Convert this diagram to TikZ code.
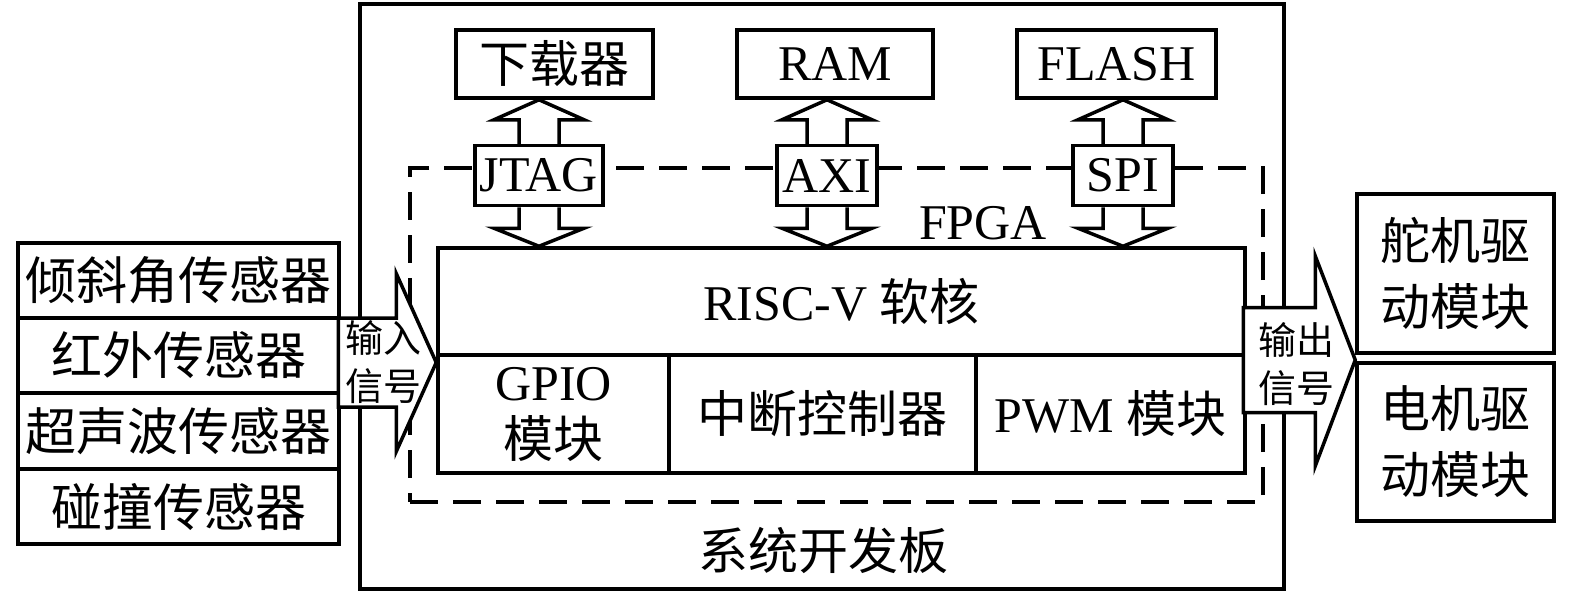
\documentclass[tikz,border=0pt]{standalone}
\usepackage{fontspec}
\setmainfont{Liberation Serif}
\newfontfamily\cjk{Noto Sans CJK SC}
\usetikzlibrary{calc}
\newcommand{\zh}[1]{{\cjk #1}}
\begin{document}
\begin{tikzpicture}[x=1pt,y=-1pt,
  lw/.style={line width=3.5pt},
  box/.style={draw,lw,inner sep=0pt,align=center,font=\fontsize{50}{60}\selectfont},
  dashbox/.style={draw,lw,dash pattern=on 28pt off 15pt},
  buslbl/.style={draw,lw,fill=white,inner sep=0pt,minimum height=60pt,font=\fontsize{50}{60}\selectfont},
  fat/.style={draw,lw,fill=white,line join=miter},
  busline/.style={draw,lw,line join=miter},
  small/.style={inner sep=0pt,align=left,font=\fontsize{38}{48}\selectfont\cjk},
  txt/.style={inner sep=0pt,align=center,font=\fontsize{50}{60}\selectfont}]
\useasboundingbox (0,0) rectangle (1575,594);

% system board and FPGA region
\node[draw,lw,minimum width=924pt,minimum height=585pt,inner sep=0pt] (board) at (822,296.5) {};
\node[dashbox,minimum width=853pt,minimum height=334pt,inner sep=0pt] (fpga) at (836.5,335) {};
\node[txt] (fpgatxt) at (983,223) {FPGA};
\node[txt] (boardtxt) at (823,550) {\zh{系统开发板}};

% top peripherals
\node[box,minimum width=197pt,minimum height=68pt] (dl) at (554.5,64) {\zh{下载器}};
\node[box,minimum width=196pt,minimum height=68pt] (ram) at (835,64) {RAM};
\node[box,minimum width=199pt,minimum height=68pt] (flash) at (1116.5,64) {FLASH};

% core
\node[box,minimum width=807pt,minimum height=107pt] (core) at (841.5,301.5) {RISC-V \zh{软核}};
\node[box,minimum width=231pt,minimum height=118pt,font=\fontsize{50}{57}\selectfont] (gpio) at (553.5,414) {GPIO\\\zh{模块}};
\node[box,minimum width=307pt,minimum height=118pt] (intc) at (822.5,414) {\zh{中断控制器}};
\node[box,minimum width=269pt,minimum height=118pt] (pwm) at (1110.5,414) {PWM \zh{模块}};

% bus labels
\node[buslbl,minimum width=128pt] (jtag) at (539,175.5) {JTAG};
\node[buslbl,minimum width=100pt] (axi) at (827,175.5) {AXI};
\node[buslbl,minimum width=100pt] (spi) at (1123,175.5) {SPI};

% bus arrows
\foreach \lb/\tg in {jtag/dl,axi/ram,spi/flash}{
  \coordinate (T) at (\lb.center |- \tg.south);
  \coordinate (B) at (\lb.center |- core.north);
  \path[busline] ($(\lb.north)+(20,0)$) -- ($(T)+(20,20)$) -- ($(T)+(45,20)$) -- (T)
     -- ($(T)+(-45,20)$) -- ($(T)+(-20,20)$) -- ($(\lb.north)+(-20,0)$);
  \path[busline] ($(\lb.south)+(20,0)$) -- ($(B)+(20,-18)$) -- ($(B)+(45,-18)$) -- (B)
     -- ($(B)+(-45,-18)$) -- ($(B)+(-20,-18)$) -- ($(\lb.south)+(-20,0)$);
}

% sensors
\node[box,minimum width=321pt,minimum height=75pt,font=\fontsize{51}{60}\selectfont] (s1) at (178.5,280.5) {\zh{倾斜角传感器}};
\node[box,minimum width=321pt,minimum height=75pt,font=\fontsize{51}{60}\selectfont] (s2) at (178.5,355.5) {\zh{红外传感器}};
\node[box,minimum width=321pt,minimum height=76pt,font=\fontsize{51}{60}\selectfont] (s3) at (178.5,431) {\zh{超声波传感器}};
\node[box,minimum width=321pt,minimum height=75pt,font=\fontsize{51}{60}\selectfont] (s4) at (178.5,506.5) {\zh{碰撞传感器}};

% drive modules
\node[box,minimum width=197pt,minimum height=159pt,font=\fontsize{50}{66}\selectfont] (servo) at (1455.5,273.5) {\zh{舵机驱}\\\zh{动模块}};
\node[box,minimum width=197pt,minimum height=158pt,font=\fontsize{50}{66}\selectfont] (motor) at (1455.5,442) {\zh{电机驱}\\\zh{动模块}};

% input fat arrow
\coordinate (inTip) at (core.west |- 0,362.5);
\path[fat] ($(inTip)+(-98,-44.5)$) -- ($(inTip)+(-40,-44.5)$) -- ($(inTip)+(-40,-89)$) -- (inTip)
  -- ($(inTip)+(-40,89)$) -- ($(inTip)+(-40,44.5)$) -- ($(inTip)+(-98,44.5)$) -- cycle;
\node[small] (intxt) at (383.5,362) {输入\\信号};

% output fat arrow
\coordinate (outTip) at (servo.south west |- 0,360);
\path[fat] ($(outTip)+(-112,-52.5)$) -- ($(outTip)+(-40,-52.5)$) -- ($(outTip)+(-40,-104)$) -- (outTip)
  -- ($(outTip)+(-40,106)$) -- ($(outTip)+(-40,52.5)$) -- ($(outTip)+(-112,52.5)$) -- cycle;
\node[small] (outtxt) at (1296,364) {输出\\信号};
\end{tikzpicture}
\end{document}
